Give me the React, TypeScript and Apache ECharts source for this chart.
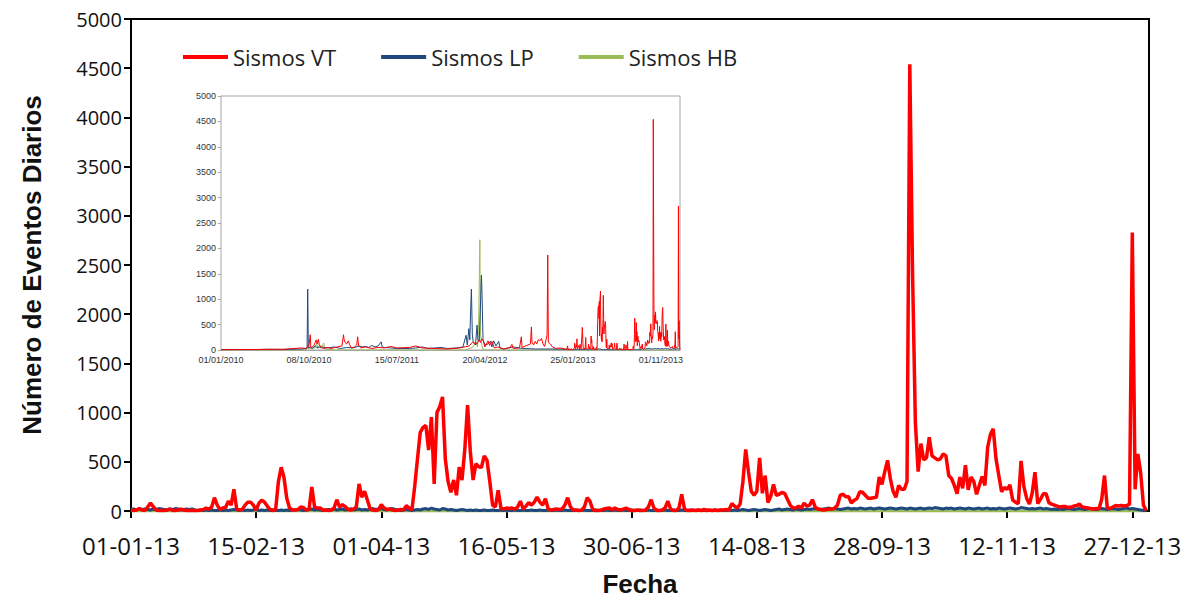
import React, { useEffect, useRef } from "react";
import * as echarts from "echarts";

// Daily event counts for 2013, indexed by day of year (0 = 01-01-13, 365 = 01-01-14)
const vtDaily = [
  // Jan
  10, 5, 10, 25, 10, 5, 40, 80, 45, 10, 5, 5, 5, 10, 20, 5, 5, 10, 20, 10, 5, 5, 5, 5, 5, 10, 15, 30, 20, 40, 135,
  // Feb
  60, 15, 30, 35, 100, 60, 220, 20, 10, 15, 60, 90, 90, 60, 10, 80, 110, 90, 50, 15, 5, 15, 300, 445, 340, 130, 30, 10,
  // Mar
  10, 15, 40, 35, 10, 15, 245, 40, 30, 30, 10, 10, 5, 10, 30, 115, 40, 65, 45, 15, 10, 20, 40, 275, 140, 200, 110, 20, 10, 5, 15,
  // Apr
  65, 30, 15, 20, 10, 5, 10, 15, 10, 55, 30, 10, 250, 530, 800, 850, 870, 620, 955, 275, 1000, 1060, 1160, 530, 300, 190, 315, 160, 445, 315,
  // May
  620, 1075, 600, 315, 480, 450, 445, 560, 515, 300, 60, 40, 210, 30, 20, 30, 25, 30, 20, 40, 100, 20, 50, 85, 60, 90, 140, 90, 60, 125, 20,
  // Jun
  10, 15, 20, 15, 20, 60, 135, 40, 10, 10, 5, 10, 40, 135, 100, 15, 5, 5, 10, 20, 25, 30, 10, 30, 15, 10, 20, 30, 15, 5,
  // Jul
  5, 10, 5, 5, 10, 40, 115, 30, 5, 5, 10, 30, 100, 20, 5, 5, 30, 170, 20, 5, 5, 10, 5, 10, 5, 15, 5, 10, 5, 10, 5,
  // Aug
  10, 10, 15, 10, 75, 50, 30, 70, 300, 625, 400, 200, 160, 200, 540, 180, 360, 85, 150, 270, 160, 170, 190, 180, 120, 60, 30, 30, 50, 30, 80,
  // Sep
  50, 60, 115, 40, 20, 15, 10, 15, 20, 20, 30, 60, 160, 170, 145, 145, 80, 110, 125, 195, 190, 160, 130, 130, 135, 140, 345, 270, 400, 515,
  // Oct
  330, 200, 140, 260, 220, 220, 300, 4540, 2400, 900, 400, 685, 520, 540, 750, 560, 540, 520, 530, 580, 560, 360, 330, 260, 175, 345, 230, 465, 215, 345, 300,
  // Nov
  170, 260, 350, 260, 650, 780, 835, 530, 360, 195, 240, 220, 265, 110, 90, 75, 510, 250, 130, 70, 180, 395, 75, 120, 175, 175, 85, 70, 60, 50,
  // Dec
  40, 45, 45, 35, 40, 50, 55, 70, 40, 35, 30, 25, 20, 25, 20, 120, 360, 30, 25, 40, 55, 50, 55, 50, 55, 70, 2830, 220, 580, 390, 60,
  // 01-01-14
  5,
];

const lpDaily = [
  15, 20, 10, 25, 15, 20, 15, 10, 20, 15, 25, 20, 15, 10, 20, 15, 25, 20, 10, 15, 20, 15, 20, 10, 5, 10, 5, 10, 5, 10, 5,
  5, 10, 5, 10, 5, 10, 15, 10, 5, 10, 5, 10, 5, 10, 15, 5, 10, 5, 10, 5, 10, 5, 5, 10, 5, 10, 5, 10,
  10, 15, 10, 5, 10, 15, 20, 10, 15, 10, 5, 10, 15, 10, 20, 10, 15, 20, 10, 15, 25, 10, 15, 20, 10, 15, 10, 20, 25, 15, 20,
  25, 15, 10, 20, 25, 15, 10, 5, 10, 15, 10, 5, 10, 15, 10, 20, 25, 15, 30, 20, 15, 10, 25, 20, 10, 15, 10, 5, 10, 15,
  10, 5, 10, 5, 10, 5, 5, 10, 5, 5, 10, 5, 5, 10, 5, 10, 5, 5, 10, 5, 5, 10, 5, 5, 10, 5, 5, 10, 5, 5, 10,
  5, 5, 10, 5, 5, 10, 5, 5, 5, 10, 5, 5, 10, 5, 5, 5, 10, 5, 5, 5, 10, 5, 5, 10, 5, 5, 10, 5, 5, 10,
  5, 5, 10, 5, 5, 10, 5, 5, 10, 5, 5, 10, 5, 5, 10, 5, 5, 10, 5, 5, 10, 5, 5, 10, 5, 5, 10, 5, 5, 10, 5,
  10, 5, 5, 10, 5, 10, 5, 10, 15, 10, 5, 10, 15, 10, 5, 10, 15, 10, 5, 10, 15, 20, 10, 15, 20, 15, 10, 20, 15, 10, 15,
  20, 15, 20, 25, 20, 15, 20, 25, 30, 20, 25, 20, 15, 20, 25, 30, 20, 25, 20, 30, 25, 20, 25, 30, 20, 25, 30, 25, 20, 25,
  30, 25, 20, 25, 30, 25, 20, 30, 25, 20, 25, 30, 20, 25, 30, 25, 35, 30, 25, 20, 30, 25, 30, 20, 25, 30, 25, 20, 30, 25, 20,
  25, 30, 20, 25, 30, 20, 25, 20, 30, 25, 20, 25, 30, 25, 20, 25, 35, 30, 25, 20, 25, 20, 25, 30, 20, 25, 20, 15, 20, 15,
  20, 15, 20, 25, 20, 15, 20, 25, 20, 15, 20, 25, 20, 15, 20, 25, 20, 15, 20, 25, 20, 15, 20, 25, 30, 20, 25, 20, 15, 10, 5,
  5,
];

const hbDaily = [
  0, 0, 0, 0, 0, 0, 0, 0, 0, 0, 0, 0, 0, 0, 0, 0, 0, 0, 0, 0, 0, 0, 0, 0, 0, 0, 0, 0, 0, 0, 0,
  0, 0, 0, 0, 0, 0, 0, 0, 0, 0, 0, 0, 0, 0, 0, 0, 0, 0, 0, 0, 0, 0, 0, 0, 0, 0, 0, 0,
  0, 0, 0, 0, 0, 0, 0, 0, 0, 0, 0, 0, 0, 0, 0, 0, 0, 0, 0, 0, 0, 0, 0, 0, 0, 0, 0, 0, 0, 0, 0,
  0, 0, 0, 0, 0, 0, 0, 0, 0, 0, 0, 0, 0, 0, 0, 0, 0, 0, 0, 0, 0, 0, 0, 0, 0, 0, 0, 0, 0, 0,
  0, 0, 0, 0, 0, 0, 0, 0, 0, 0, 0, 0, 0, 0, 0, 0, 0, 0, 0, 0, 0, 0, 0, 0, 0, 0, 0, 0, 0, 0, 0,
  0, 0, 0, 0, 0, 0, 0, 0, 0, 0, 0, 0, 0, 0, 0, 0, 0, 0, 0, 0, 0, 0, 0, 0, 0, 0, 0, 0, 0, 0,
  0, 0, 0, 0, 0, 0, 0, 0, 0, 0, 0, 0, 0, 0, 0, 0, 0, 0, 0, 0, 0, 0, 0, 0, 0, 0, 0, 0, 0, 0, 0,
  0, 0, 0, 0, 0, 0, 0, 0, 0, 0, 0, 0, 0, 0, 0, 0, 0, 0, 0, 0, 0, 0, 0, 0, 0, 0, 0, 0, 0, 0, 0,
  0, 0, 0, 0, 0, 0, 0, 0, 0, 0, 0, 0, 0, 0, 0, 0, 0, 0, 0, 0, 0, 0, 0, 0, 0, 0, 0, 0, 0, 0,
  0, 0, 0, 0, 0, 0, 0, 0, 0, 0, 0, 0, 0, 0, 0, 0, 0, 0, 0, 0, 0, 0, 0, 0, 0, 0, 0, 0, 0, 0, 0,
  0, 0, 0, 0, 0, 0, 0, 0, 0, 0, 0, 0, 0, 0, 0, 0, 0, 0, 0, 0, 0, 0, 0, 0, 0, 0, 0, 0, 0, 0,
  0, 0, 0, 0, 0, 0, 0, 0, 0, 0, 0, 0, 0, 0, 0, 0, 0, 0, 0, 0, 0, 0, 0, 0, 0, 0, 0, 0, 0, 0, 0,
  0,
];

// Long record 2010-2012: [days since 01/01/2010, events]
const vtEarly: [number, number][] = [
  [0, 5], [100, 10], [200, 15], [255, 40], [270, 30], [280, 80], [284, 300], [286, 40], [295, 80], [300, 150],
  [303, 200], [306, 120], [310, 210], [313, 100], [318, 60], [325, 30], [340, 50], [350, 30], [370, 60], [385, 80],
  [390, 300], [392, 200], [395, 150], [400, 120], [405, 180], [410, 100], [415, 40], [425, 60], [432, 100], [435, 260],
  [438, 80], [445, 40], [460, 60], [480, 30], [500, 50], [520, 40], [540, 70], [560, 40], [600, 50], [620, 80],
  [640, 40], [680, 30], [720, 20], [760, 40], [790, 80], [800, 150], [815, 120], [822, 200], [826, 150], [830, 220],
  [835, 180], [840, 60], [850, 180], [855, 90], [862, 170], [870, 40], [880, 60], [900, 20], [920, 50], [926, 110],
  [930, 30], [950, 40], [956, 260], [958, 50], [970, 80], [985, 120], [988, 455], [990, 150], [995, 100], [1000, 170],
  [1005, 120], [1010, 200], [1015, 180], [1020, 230], [1025, 120], [1030, 70], [1038, 300], [1040, 1870], [1042, 150],
  [1048, 120], [1055, 60], [1065, 30], [1080, 40], [1095, 20],
];

const lpEarly: [number, number][] = [
  [0, 5], [60, 10], [100, 5], [150, 15], [200, 10], [260, 20], [274, 30], [276, 1200], [278, 40], [285, 60],
  [290, 30], [300, 80], [305, 50], [320, 60], [340, 40], [360, 60], [380, 30], [400, 50], [420, 40], [440, 80],
  [450, 60], [460, 70], [470, 50], [480, 90], [490, 60], [500, 80], [510, 160], [513, 60], [520, 50], [540, 40],
  [560, 30], [600, 30], [620, 40], [640, 60], [660, 30], [700, 50], [720, 30], [750, 40], [770, 60], [780, 290],
  [784, 100], [789, 420], [792, 200], [794, 650], [797, 1200], [800, 300], [803, 150], [810, 100], [815, 490], [818, 200],
  [822, 180], [829, 1470], [831, 1075], [834, 200], [840, 100], [850, 120], [858, 170], [862, 60], [868, 180], [875, 80],
  [884, 170], [888, 40], [900, 20], [930, 60], [960, 30], [1000, 20], [1050, 20], [1095, 15],
];

const hbEarly: [number, number][] = [
  [0, 0], [270, 0], [278, 100], [280, 20], [300, 40], [305, 130], [308, 30], [315, 100], [318, 30], [327, 140],
  [330, 20], [360, 0], [780, 0], [800, 50], [812, 150], [816, 60], [820, 500], [824, 2170], [826, 300], [830, 100],
  [835, 0], [1095, 0],
];

const SERIES_NAMES = ["Sismos VT", "Sismos LP", "Sismos HB"];
const COLORS = ["#FF0000", "#1F497D", "#9BBB59"];

const DAY_MS = 86400000;
const START_2013 = Date.UTC(2013, 0, 1);
const START_2010 = Date.UTC(2010, 0, 1);
const DAYS_TO_2013 = 1096;

const pad = (n: number) => (n < 10 ? "0" + n : String(n));
const dayLabel = (start: number, day: number, sep: string, fullYear: boolean) => {
  const d = new Date(start + day * DAY_MS);
  const y = fullYear ? String(d.getUTCFullYear()) : pad(d.getUTCFullYear() % 100);
  return pad(d.getUTCDate()) + sep + pad(d.getUTCMonth() + 1) + sep + y;
};
const plainNumber = (v: number) => String(v);

const toPairs = (values: number[], offset: number) => values.map((v, i) => [i + offset, v]);

export default function App() {
  const ref = useRef<HTMLDivElement>(null);

  useEffect(() => {
    document.body.style.margin = "0";
    if (!ref.current) return;
    const chart = echarts.init(ref.current, null, { renderer: "svg" });

    const sans = "'Open Sans', 'Liberation Sans', sans-serif";
    const arial = "'Liberation Sans', Arial, sans-serif";

    const daily = [vtDaily, lpDaily, hbDaily];
    const early = [vtEarly, lpEarly, hbEarly];
    const order = [2, 1, 0];

    const mainSeries = order.map((k) => ({
      name: SERIES_NAMES[k],
      type: "line",
      xAxisIndex: 0,
      yAxisIndex: 0,
      symbol: "none",
      data: toPairs(daily[k], 0),
      lineStyle: { color: COLORS[k], width: k === 0 ? 3.5 : 3 },
      itemStyle: { color: COLORS[k] },
      silent: true,
      z: 3 + (2 - k),
    }));

    const insetSeries = order.map((k) => ({
      name: SERIES_NAMES[k],
      type: "line",
      xAxisIndex: 1,
      yAxisIndex: 1,
      symbol: "none",
      data: [...early[k], ...toPairs(daily[k], DAYS_TO_2013)],
      lineStyle: { color: COLORS[k], width: 1 },
      itemStyle: { color: COLORS[k] },
      silent: true,
      z: 3 + (2 - k),
    }));

    chart.setOption({
      animation: false,
      backgroundColor: "#ffffff",
      legend: {
        data: SERIES_NAMES,
        left: 183,
        top: 46,
        padding: 0,
        itemWidth: 45,
        itemHeight: 4,
        itemGap: 45,
        icon: "rect",
        textStyle: { fontFamily: sans, fontSize: 22, color: "#222" },
      },
      grid: [
        {
          left: 131,
          top: 19,
          right: 45,
          bottom: 91,
          show: true,
          borderColor: "#000",
          borderWidth: 2,
          backgroundColor: "transparent",
        },
        {
          left: 221,
          top: 96,
          width: 459,
          height: 254,
          show: true,
          borderColor: "#A6A6A6",
          borderWidth: 1,
          backgroundColor: "#ffffff",
          z: 1,
        },
      ],
      xAxis: [
        {
          type: "value",
          gridIndex: 0,
          min: 0,
          max: 366,
          interval: 45,
          name: "Fecha",
          nameLocation: "middle",
          nameGap: 60,
          nameTextStyle: { fontFamily: arial, fontWeight: "bold", fontSize: 26, color: "#111" },
          axisLine: { lineStyle: { color: "#000", width: 2 } },
          axisTick: { show: true, length: 7, lineStyle: { color: "#000", width: 2 } },
          axisLabel: {
            fontFamily: sans,
            fontSize: 24,
            color: "#111",
            margin: 22,
            showMaxLabel: false,
            formatter: (v: number) => (v % 45 === 0 ? dayLabel(START_2013, v, "-", false) : ""),
          },
          splitLine: { show: false },
        },
        {
          type: "value",
          gridIndex: 1,
          min: 0,
          max: 1461,
          interval: 280,
          axisLine: { lineStyle: { color: "#A6A6A6", width: 1 } },
          axisTick: { show: false },
          axisLabel: {
            fontFamily: arial,
            fontSize: 9,
            color: "#333",
            margin: 5,
            showMaxLabel: false,
            formatter: (v: number) => (v % 280 === 0 ? dayLabel(START_2010, v, "/", true) : ""),
          },
          splitLine: { show: false },
        },
      ],
      yAxis: [
        {
          type: "value",
          gridIndex: 0,
          min: 0,
          max: 5000,
          interval: 500,
          name: "Número de Eventos Diarios",
          nameLocation: "middle",
          nameGap: 86,
          nameRotate: 90,
          nameTextStyle: { fontFamily: arial, fontWeight: "bold", fontSize: 26, color: "#111" },
          axisLine: { show: true, lineStyle: { color: "#000", width: 2 } },
          axisTick: { show: true, length: 7, lineStyle: { color: "#000", width: 2 } },
          axisLabel: { fontFamily: sans, fontSize: 20, color: "#111", margin: 9, formatter: plainNumber },
          splitLine: { show: false },
        },
        {
          type: "value",
          gridIndex: 1,
          min: 0,
          max: 5000,
          interval: 500,
          axisLine: { show: true, lineStyle: { color: "#A6A6A6", width: 1 } },
          axisTick: { show: true, length: 3, lineStyle: { color: "#A6A6A6" } },
          axisLabel: { fontFamily: arial, fontSize: 9, color: "#333", margin: 5, formatter: plainNumber },
          splitLine: { show: false },
        },
      ],
      series: [...mainSeries, ...insetSeries],
    });

    return () => chart.dispose();
  }, []);

  return <div ref={ref} style={{ width: 1194, height: 602 }} />;
}
